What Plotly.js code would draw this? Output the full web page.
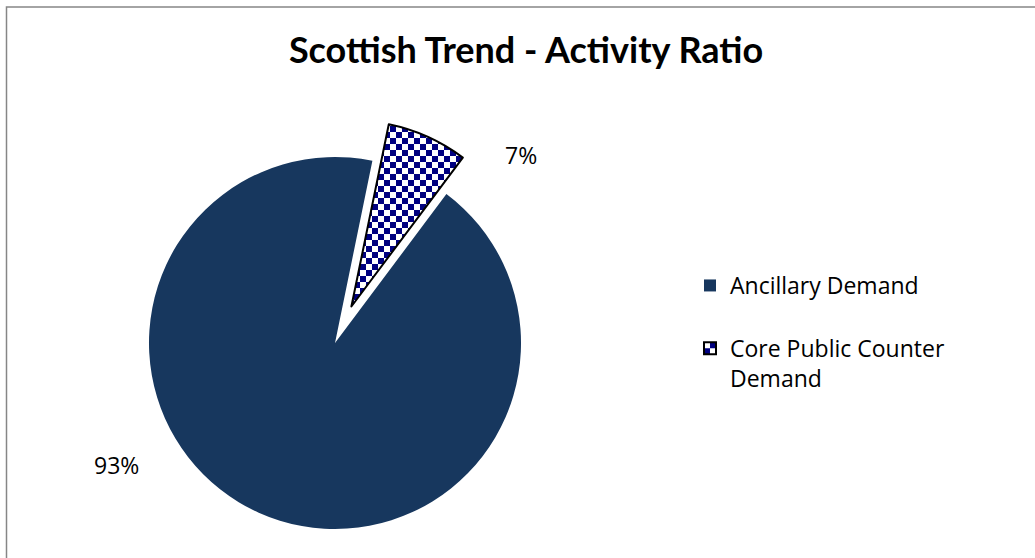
<!DOCTYPE html>
<html>
<head>
<meta charset="utf-8">
<script src="https://cdn.plot.ly/plotly-3.0.1.min.js"></script>
<style>
html,body{margin:0;padding:0;overflow:hidden;background:#fff;}
#chart{width:1035px;height:600px;}
</style>
</head>
<body>
<div id="chart"></div>
<script>
// ---- data ----
var categories = ["Ancillary Demand", "Core Public Counter Demand"];
var values = [93, 7];
var legendLabels = ["Ancillary Demand<br> ", "Core Public Counter<br>Demand"];
var pullOut = [0, 0.215];

var W = 1035, H = 600;
var total = values.reduce(function(a,b){return a+b;},0);
var pctText = values.map(function(v){return Math.round(v/total*100) + '%';});

var trace = {
  type: 'pie',
  labels: legendLabels,
  values: values,
  customdata: categories,
  sort: false,
  direction: 'clockwise',
  rotation: 36.8,
  pull: pullOut,
  textinfo: 'none',
  hoverinfo: 'none',
  marker: {
    colors: ['#17375E', '#000080'],
    line: {color: ['rgba(0,0,0,0)', '#000000'], width: [0, 2]}
  },
  domain: {x: [109/W, 561/W], y: [1 - 569/H, 1 - 117/H]}
};

var bodyFont = 'Open Sans, sans-serif';
var bodySize = 23;

var layout = {
  width: W, height: H,
  margin: {l:0, r:0, t:0, b:0, pad:0},
  paper_bgcolor: '#ffffff',
  font: {family: bodyFont, color: '#000000', size: bodySize},
  title: {
    text: 'Scottish Trend - Activity Ratio',
    font: {family: 'Lato, sans-serif', size: 36, weight: 'bold', color: '#000000'},
    x: 526/W, xanchor: 'center', xref: 'container',
    y: 1 - 50/H, yanchor: 'middle', yref: 'container'
  },
  showlegend: true,
  legend: {
    x: 690/W, xanchor: 'left', y: 1 - 264/H, yanchor: 'top',
    valign: 'top', font: {size: bodySize, family: bodyFont},
    bgcolor: 'rgba(0,0,0,0)'
  },
  annotations: [
    {text: pctText[1], xref:'paper', yref:'paper', x: 521/W, y: 1 - 155/H, showarrow:false, xanchor:'center', yanchor:'middle', font:{size:bodySize, family: bodyFont}},
    {text: pctText[0], xref:'paper', yref:'paper', x: 116/W, y: 1 - 465/H, showarrow:false, xanchor:'center', yanchor:'middle', font:{size:bodySize, family: bodyFont}}
  ],
  shapes: [
    {type:'rect', xref:'paper', yref:'paper', x0: 6.5/W, x1: 1.2, y0: -0.2, y1: 1 - 7/H,
     line:{color:'#868686', width:1.5}, fillcolor:'rgba(0,0,0,0)', layer:'below'}
  ]
};

Plotly.newPlot('chart', [trace], layout, {staticPlot: true, displayModeBar: false}).then(function(gd){
  var svgNS = 'http://www.w3.org/2000/svg';
  var svg = gd.querySelector('.main-svg');
  var defs = document.createElementNS(svgNS, 'defs');
  function mkPattern(id, c, offsetTL){
    var p = document.createElementNS(svgNS, 'pattern');
    p.setAttribute('id', id);
    p.setAttribute('patternUnits', 'userSpaceOnUse');
    p.setAttribute('width', 2*c); p.setAttribute('height', 2*c);
    var bg = document.createElementNS(svgNS, 'rect');
    bg.setAttribute('width', 2*c); bg.setAttribute('height', 2*c); bg.setAttribute('fill', '#ffffff');
    p.appendChild(bg);
    var pos = offsetTL ? [[c,0],[0,c]] : [[0,0],[c,c]];
    pos.forEach(function(q){
      var r = document.createElementNS(svgNS, 'rect');
      r.setAttribute('x', q[0]); r.setAttribute('y', q[1]);
      r.setAttribute('width', c); r.setAttribute('height', c);
      r.setAttribute('fill', '#000080');
      p.appendChild(r);
    });
    defs.appendChild(p);
  }
  mkPattern('chkSlice', 6, false);
  mkPattern('chkLegend', 6, true);
  svg.insertBefore(defs, svg.firstChild);
  var slices = gd.querySelectorAll('.pielayer .slice path.surface');
  if (slices[1]) slices[1].style.fill = 'url(#chkSlice)';
  var leg = gd.querySelectorAll('.legend .traces');
  if (leg[1]) {
    var lp = leg[1].querySelector('.legendpoints path');
    if (lp) lp.style.fill = 'url(#chkLegend)';
  }
});
</script>
</body>
</html>
